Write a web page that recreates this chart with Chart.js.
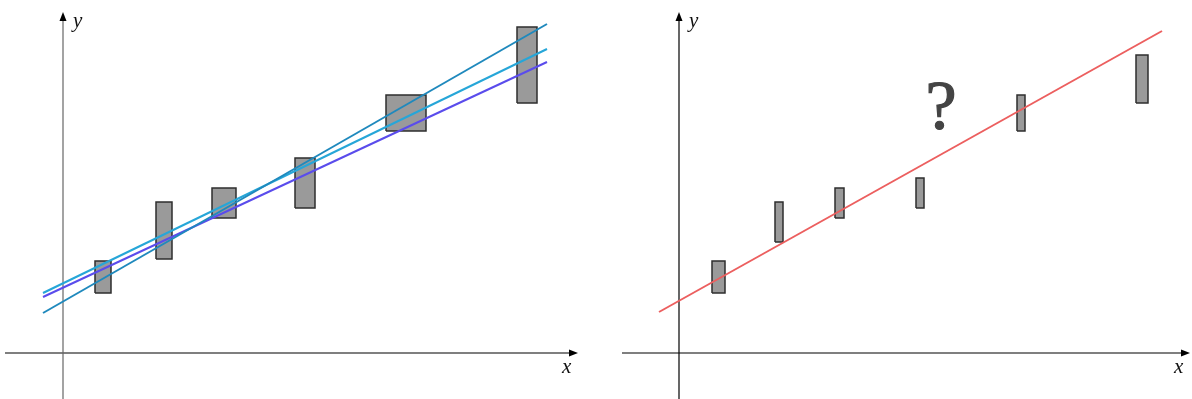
<!DOCTYPE html>
<html lang="en">
<head>
    <meta charset="UTF-8">
    <title>Error boxes and fitted lines</title>
    <script src="https://cdn.jsdelivr.net/npm/chart.js"></script>
    <style>
        body {
            margin: 0;
            padding: 0;
            background: #fff;
        }

        .panel {
            position: absolute;
            top: 0;
            width: 596px;
            height: 399px;
        }

        #leftPanel { left: 0; }
        #rightPanel { left: 596px; }
    </style>
</head>
<body>
    <div class="panel" id="leftPanel"><canvas id="leftChart" width="596" height="399"></canvas></div>
    <div class="panel" id="rightPanel"><canvas id="rightChart" width="596" height="399"></canvas></div>

    <script>
        // Left panel: measurements with x and y uncertainty
        const leftBoxX  = [0.80, 2.02, 3.22, 4.84, 6.86, 9.28];
        const leftBoxDX = [0.16, 0.16, 0.24, 0.20, 0.40, 0.20];
        const leftBoxY  = [1.52, 2.45, 3.00, 3.40, 4.80, 5.76];
        const leftBoxDY = [0.32, 0.57, 0.30, 0.50, 0.36, 0.76];

        // Right panel: same measurements, smaller x uncertainty
        const rightBoxX  = [0.79, 2.00, 3.21, 4.82, 6.84, 9.26];
        const rightBoxDX = [0.13, 0.08, 0.09, 0.08, 0.08, 0.12];
        const rightBoxY  = [1.52, 2.62, 3.00, 3.20, 4.80, 5.48];
        const rightBoxDY = [0.32, 0.40, 0.30, 0.30, 0.36, 0.48];

        // Fitted lines (end points)
        const fitX = [-0.40, 9.68];
        const fitA = [0.80, 6.58];
        const fitB = [1.20, 6.08];
        const fitC = [1.12, 5.82];
        const fitRedX = [-0.40, 9.66];
        const fitRed = [0.82, 6.44];

        function boxDatasets(xs, dxs, ys, dys) {
            return xs.map((x, i) => ({
                type: 'line',
                data: [
                    { x: x - dxs[i], y: ys[i] - dys[i] },
                    { x: x + dxs[i], y: ys[i] - dys[i] },
                    { x: x + dxs[i], y: ys[i] + dys[i] },
                    { x: x - dxs[i], y: ys[i] + dys[i] },
                    { x: x - dxs[i], y: ys[i] - dys[i] }
                ],
                fill: 'shape',
                backgroundColor: '#9a9a9a',
                borderColor: '#2e2e2e',
                borderWidth: 1.5,
                pointRadius: 0,
                tension: 0,
                order: 1
            }));
        }

        function lineDataset(xs, ys, color) {
            return {
                type: 'line',
                data: xs.map((x, i) => ({ x: x, y: ys[i] })),
                borderColor: color,
                borderWidth: 2,
                pointRadius: 0,
                fill: false,
                order: 0
            };
        }

        // Draws the two axes with arrow heads and the x / y labels
        const axesPlugin = {
            id: 'axes',
            beforeDatasetsDraw(chart, args, opts) {
                const c = chart.ctx;
                const sx = chart.scales.x, sy = chart.scales.y;
                const x0 = sx.getPixelForValue(0), y0 = sy.getPixelForValue(0);
                const xa = sx.getPixelForValue(opts.xFrom), xb = sx.getPixelForValue(opts.xTo);
                const ya = sy.getPixelForValue(opts.yFrom), yb = sy.getPixelForValue(opts.yTo);
                c.save();
                c.lineWidth = 1.2;
                // x axis
                c.strokeStyle = '#000';
                c.fillStyle = '#000';
                c.beginPath(); c.moveTo(xa, y0); c.lineTo(xb - 6, y0); c.stroke();
                c.beginPath(); c.moveTo(xb, y0); c.lineTo(xb - 9, y0 - 3.5); c.lineTo(xb - 9, y0 + 3.5); c.closePath(); c.fill();
                // y axis
                c.strokeStyle = opts.yColor;
                c.beginPath(); c.moveTo(x0, ya); c.lineTo(x0, yb + 6); c.stroke();
                c.fillStyle = '#000';
                c.beginPath(); c.moveTo(x0, yb); c.lineTo(x0 - 3.5, yb + 9); c.lineTo(x0 + 3.5, yb + 9); c.closePath(); c.fill();
                // labels
                c.font = 'italic 21px "Liberation Serif", "DejaVu Serif", serif';
                c.fillStyle = '#111';
                c.textBaseline = 'alphabetic';
                c.fillText('y', x0 + 10, yb + 15);
                c.fillText('x', xb - 16, y0 + 20);
                c.restore();
            },
            afterDatasetsDraw(chart, args, opts) {
                if (!opts.mark) return;
                const c = chart.ctx;
                c.save();
                c.font = '70px "Liberation Serif", "DejaVu Serif", serif';
                c.fillStyle = '#444';
                c.strokeStyle = '#444';
                c.lineWidth = 1.2;
                c.textAlign = 'center';
                c.textBaseline = 'alphabetic';
                const px = chart.scales.x.getPixelForValue(opts.mark.x);
                const py = chart.scales.y.getPixelForValue(opts.mark.y);
                c.fillText(opts.mark.text, px, py);
                c.strokeText(opts.mark.text, px, py);
                c.restore();
            }
        };

        function makeChart(id, datasets, xMin, xMax, axisOpts) {
            return new Chart(document.getElementById(id), {
                type: 'line',
                data: { datasets: datasets },
                options: {
                    responsive: false,
                    animation: false,
                    layout: { padding: 0 },
                    plugins: {
                        legend: { display: false },
                        tooltip: { enabled: false },
                        axes: axisOpts
                    },
                    scales: {
                        x: { type: 'linear', min: xMin, max: xMax, display: false },
                        y: { type: 'linear', min: -0.92, max: 7.06, display: false }
                    }
                },
                plugins: [axesPlugin]
            });
        }

        makeChart('leftChart',
            boxDatasets(leftBoxX, leftBoxDX, leftBoxY, leftBoxDY).concat([
                lineDataset(fitX, fitA, '#1f89bd'),
                lineDataset(fitX, fitB, '#26a6d8'),
                lineDataset(fitX, fitC, '#5a4cec')
            ]),
            -1.26, 10.66,
            { xFrom: -1.16, xTo: 10.30, yFrom: -0.92, yTo: 6.82, yColor: '#666' });

        makeChart('rightChart',
            boxDatasets(rightBoxX, rightBoxDX, rightBoxY, rightBoxDY).concat([
                lineDataset(fitRedX, fitRed, '#ec5f5f')
            ]),
            -1.66, 10.26,
            { xFrom: -1.14, xTo: 10.22, yFrom: -0.92, yTo: 6.82, yColor: '#000', mark: { text: '?', x: 5.24, y: 4.48 } });
    </script>
</body>
</html>
